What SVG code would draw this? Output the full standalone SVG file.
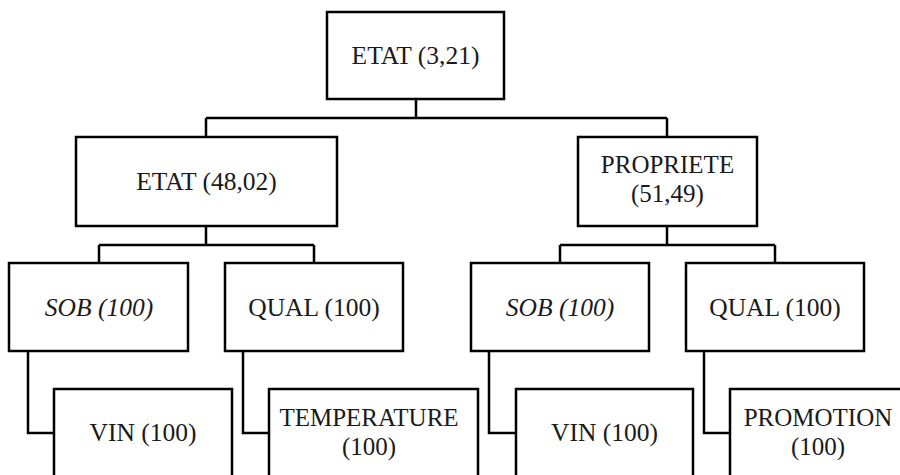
<svg xmlns="http://www.w3.org/2000/svg" width="900" height="475" viewBox="0 0 900 475">
<style>
rect{fill:#fff;stroke:#000;stroke-width:2.5}
.c{fill:none;stroke:#000;stroke-width:2.5}
text{font-family:"Liberation Serif","Times New Roman",serif;font-size:25.5px;fill:#1a1a1a;text-anchor:middle}
.m{font-size:25px}
.i{font-style:italic}
</style>
<rect x="0" y="0" width="900" height="475" style="stroke:none"/>
<g id="connectors">
<path class="c" d="M416,99V118M206,118H667M206,118V137M667,118V137"/>
<path class="c" d="M206,226V245M99,245H314M99,245V263M314,245V263"/>
<path class="c" d="M667,226V245M560,245H775M560,245V263M775,245V263"/>
<path class="c" d="M28,351V433H54M243,351V433H269M489,351V433H516M704,351V433H730"/>
</g>
<g id="n-etat-root"><rect x="327" y="12" width="177" height="87"/><text x="415.5" y="64">ETAT (3,21)</text></g>
<g id="n-etat"><rect x="76" y="137" width="261" height="89"/><text x="206.5" y="190">ETAT (48,02)</text></g>
<g id="n-propriete"><rect x="578" y="137" width="179" height="89"/><text class="m" x="667.5" y="173">PROPRIETE<tspan x="667.5" dy="28.5">(51,49)</tspan></text></g>
<g id="n-sob1"><rect x="9" y="263" width="179" height="88"/><text class="i" x="99" y="316">SOB (100)</text></g>
<g id="n-qual1"><rect x="225" y="263" width="178" height="88"/><text x="314" y="316">QUAL (100)</text></g>
<g id="n-sob2"><rect x="471" y="263" width="178" height="88"/><text class="i" x="560" y="316">SOB (100)</text></g>
<g id="n-qual2"><rect x="686" y="263" width="178" height="88"/><text x="775" y="316">QUAL (100)</text></g>
<g id="n-vin1"><rect x="54" y="389" width="178" height="95"/><text x="143" y="441">VIN (100)</text></g>
<g id="n-temperature"><rect x="269" y="389" width="209" height="95"/><text class="m" x="369" y="426">TEMPERATURE<tspan x="369" dy="28.5">(100)</tspan></text></g>
<g id="n-vin2"><rect x="516" y="389" width="177" height="95"/><text x="604.5" y="441">VIN (100)</text></g>
<g id="n-promotion"><rect x="730" y="389" width="180" height="95"/><text class="m" x="818" y="426">PROMOTION<tspan x="818" dy="28.5">(100)</tspan></text></g>
</svg>
